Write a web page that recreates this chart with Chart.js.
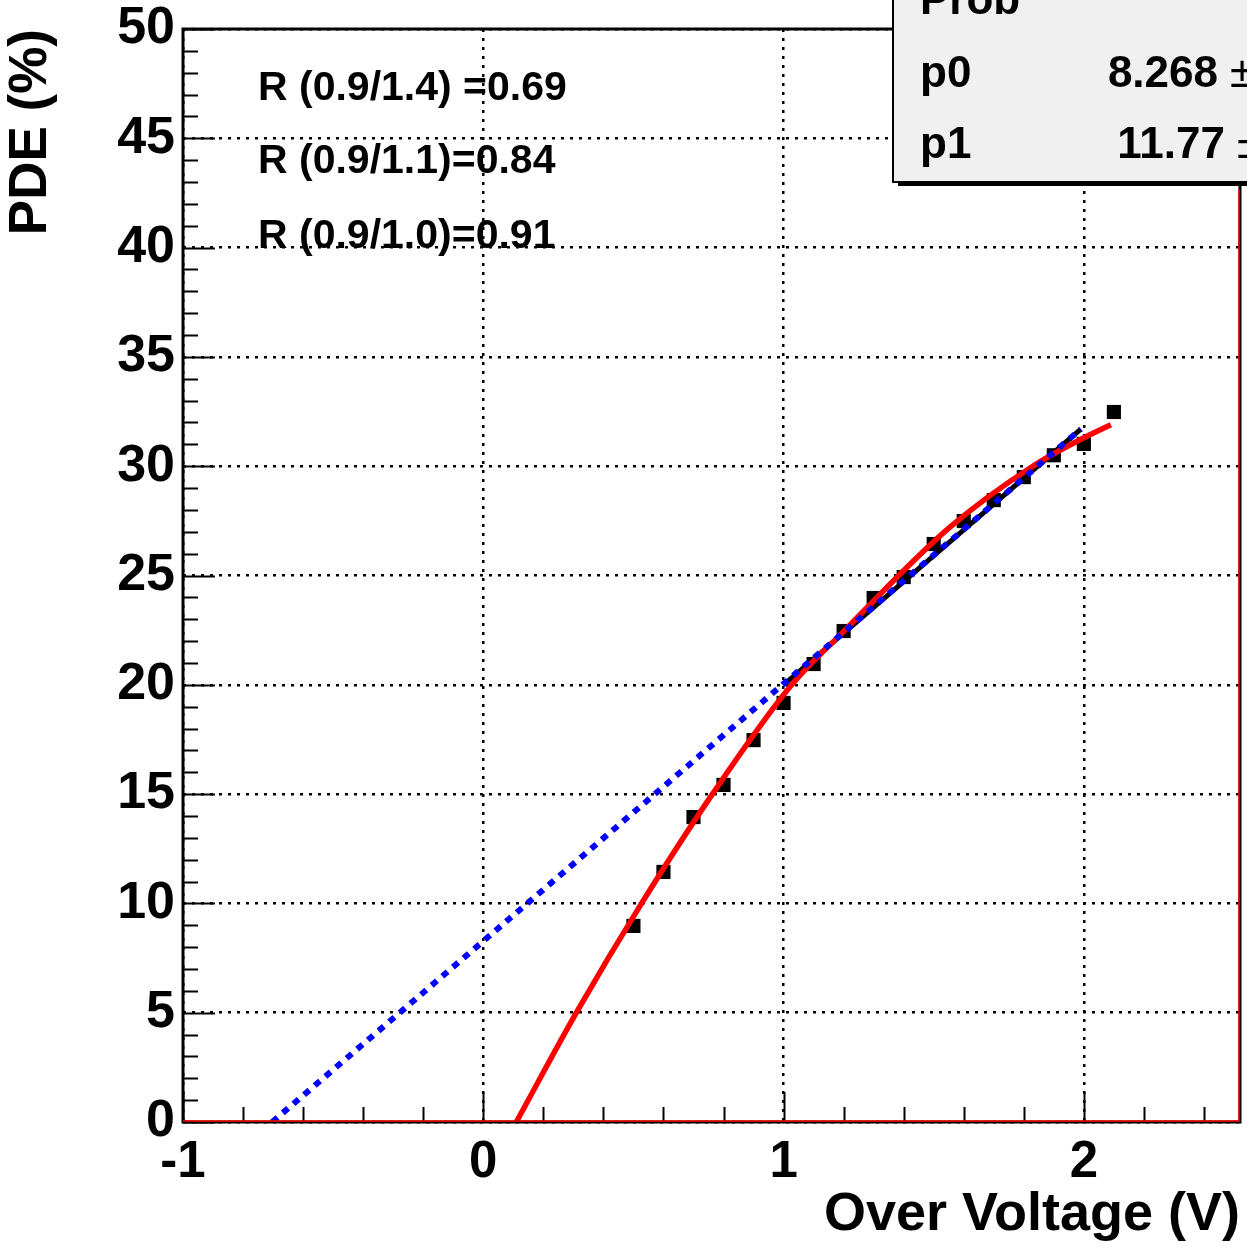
<!DOCTYPE html>
<html>
<head>
<meta charset="utf-8">
<script src="https://cdn.jsdelivr.net/npm/chart.js@4/dist/chart.umd.min.js"></script>
<style>
  html, body { margin: 0; padding: 0; background: #ffffff; }
  #wrap { width: 1247px; height: 1248px; }
</style>
</head>
<body>
<div id="wrap"><canvas id="grafico" width="1247" height="1248"></canvas></div>
<script>
// dados
const tensao = [0.5, 0.6, 0.7, 0.8, 0.9, 1.0, 1.1, 1.2, 1.3, 1.4, 1.5, 1.6, 1.7, 1.8, 1.9, 2.0, 2.1];
const pde = [8.97, 11.44, 13.95, 15.42, 17.47, 19.17, 20.95, 22.46, 23.97, 24.93, 26.44, 27.49, 28.45, 29.5, 30.5, 31.02, 32.48];

// ajuste linear extrapolado (pontilhado azul) e faixa do ajuste (preto)
const retaX = [-0.703, 1.99];
const retaY = [0, 31.7];
const ajusteX = [1.0, 1.99];
const ajusteY = [20.0, 31.7];

// curva vermelha
const curvaX = [0.11, 0.31, 0.527, 0.763, 1.027, 1.197, 1.553, 1.83, 2.0, 2.09];
const curvaY = [0, 5, 10, 15, 20, 22.4, 27.2, 30.0, 31.3, 31.9];

const ticksX = [-1, 0, 1, 2];
const razoes = ["R (0.9/1.4) =0.69", "R (0.9/1.1)=0.84", "R (0.9/1.0)=0.91"];
const parametros = [["p0", "8.268"], ["p1", "11.77"]];

function pares(xs, ys) {
    return xs.map((x, i) => ({ x: x, y: ys[i] }));
}

const FONTE = "'Liberation Sans', Arial, Helvetica, sans-serif";

// moldura, marcas internas, textos e caixa de estatística
const extras = {
    id: "extras",
    afterDraw(chart) {
        const ctx = chart.ctx;
        const a = chart.chartArea;
        const sx = chart.scales.x;
        const sy = chart.scales.y;
        ctx.save();

        // marcas do eixo x (dentro da moldura)
        ctx.strokeStyle = "#000";
        ctx.lineWidth = 2;
        for (let v = -1; v <= 2.5; v += 0.2) {
            const px = Math.round(sx.getPixelForValue(v)) + 0.5;
            const maior = Math.abs(v - Math.round(v)) < 1e-6;
            ctx.beginPath();
            ctx.moveTo(px, a.bottom);
            ctx.lineTo(px, a.bottom - (maior ? 30 : 15));
            ctx.stroke();
        }
        // marcas do eixo y
        for (let v = 0; v <= 50; v += 1) {
            const py = Math.round(sy.getPixelForValue(v)) + 0.5;
            ctx.beginPath();
            ctx.moveTo(a.left, py);
            ctx.lineTo(a.left + (v % 5 === 0 ? 32 : 15), py);
            ctx.stroke();
        }

        // moldura
        ctx.lineWidth = 3;
        ctx.strokeStyle = "#000";
        ctx.strokeRect(a.left, a.top, a.right - a.left, a.bottom - a.top);
        ctx.strokeStyle = "#ff0000";
        ctx.lineWidth = 1.5;
        ctx.beginPath();
        ctx.moveTo(a.left, a.bottom - 1);
        ctx.lineTo(a.right - 1, a.bottom - 1);
        ctx.lineTo(a.right - 1, a.top + 160);
        ctx.stroke();

        // textos das razões
        ctx.fillStyle = "#000";
        ctx.font = "bold 41px " + FONTE;
        ctx.textAlign = "left";
        ctx.textBaseline = "alphabetic";
        const bases = [100, 173, 248];
        razoes.forEach((t, i) => ctx.fillText(t, 258, bases[i]));

        // caixa de estatística (cortada no topo/direita)
        ctx.fillStyle = "#000";
        ctx.fillRect(898, -10, 360, 196);
        ctx.fillStyle = "#f0f0f0";
        ctx.fillRect(893, -10, 360, 192);
        ctx.strokeStyle = "#000";
        ctx.lineWidth = 2;
        ctx.strokeRect(893, -10, 360, 192);

        ctx.fillStyle = "#000";
        ctx.font = "bold 44px " + FONTE;
        ctx.fillText("Prob", 920, 14);
        const linhas = [87, 158];
        parametros.forEach((p, i) => {
            ctx.textAlign = "left";
            ctx.fillText(p[0], 920, linhas[i]);
            ctx.textAlign = "right";
            ctx.fillText(p[1], i === 0 ? 1218 : 1225, linhas[i]);
            ctx.textAlign = "left";
            ctx.font = "44px " + FONTE;
            ctx.fillText("\u00b1", i === 0 ? 1230 : 1237, linhas[i]);
            ctx.font = "bold 44px " + FONTE;
        });
        ctx.restore();
    }
};

const ctxGrafico = document.getElementById("grafico").getContext("2d");
const grafico = new Chart(ctxGrafico, {
    type: "scatter",
    data: {
        datasets: [
            {
                label: "reta",
                data: pares(retaX, retaY),
                showLine: true,
                borderColor: "#0000ff",
                borderWidth: 6,
                borderDash: [7, 7],
                pointRadius: 0
            },
            {
                label: "curva",
                data: pares(curvaX, curvaY),
                showLine: true,
                borderColor: "#ff0000",
                borderWidth: 5.5,
                cubicInterpolationMode: "monotone",
                pointRadius: 0
            },
            {
                label: "ajuste",
                data: pares(ajusteX, ajusteY),
                showLine: true,
                borderColor: "#000000",
                borderWidth: 5,
                pointRadius: 0
            },
            {
                label: "PDE",
                data: pares(tensao, pde),
                pointStyle: "rect",
                pointRadius: 10,
                backgroundColor: "#000000",
                borderColor: "#000000",
                borderWidth: 0
            }
        ]
    },
    options: {
        responsive: false,
        animation: false,
        devicePixelRatio: 1,
        layout: { autoPadding: false, padding: { top: 29, right: 7, left: 0, bottom: 0 } },
        plugins: {
            legend: { display: false },
            tooltip: { enabled: false }
        },
        scales: {
            x: {
                type: "linear",
                min: -1,
                max: 2.52,
                afterBuildTicks: (s) => { s.ticks = ticksX.map(v => ({ value: v })); },
                afterFit: (s) => { s.height = 126; s.paddingLeft = 0; s.paddingRight = 0; },
                grid: { color: "#000", lineWidth: 2.5, drawTicks: false },
                border: { display: false, dash: [3, 6] },
                ticks: {
                    color: "#000",
                    padding: 10,
                    maxRotation: 0,
                    font: { family: FONTE, size: 51, weight: "bold" },
                    callback: (v) => String(v)
                },
                title: {
                    display: true,
                    text: "Over Voltage (V)",
                    align: "end",
                    color: "#000",
                    padding: 0,
                    font: { family: FONTE, size: 54, weight: "bold" }
                }
            },
            y: {
                min: 0,
                max: 50,
                afterFit: (s) => { s.width = 183; s.paddingTop = 0; s.paddingBottom = 0; },
                grid: { color: "#000", lineWidth: 2.5, drawTicks: false },
                border: { display: false, dash: [3, 6] },
                ticks: {
                    stepSize: 5,
                    color: "#000",
                    padding: 8,
                    font: { family: FONTE, size: 52, weight: "bold" }
                },
                title: {
                    display: true,
                    text: "PDE (%)",
                    align: "end",
                    color: "#000",
                    padding: 0,
                    font: { family: FONTE, size: 53, weight: "bold" }
                }
            }
        }
    },
    plugins: [extras]
});
</script>
</body>
</html>
